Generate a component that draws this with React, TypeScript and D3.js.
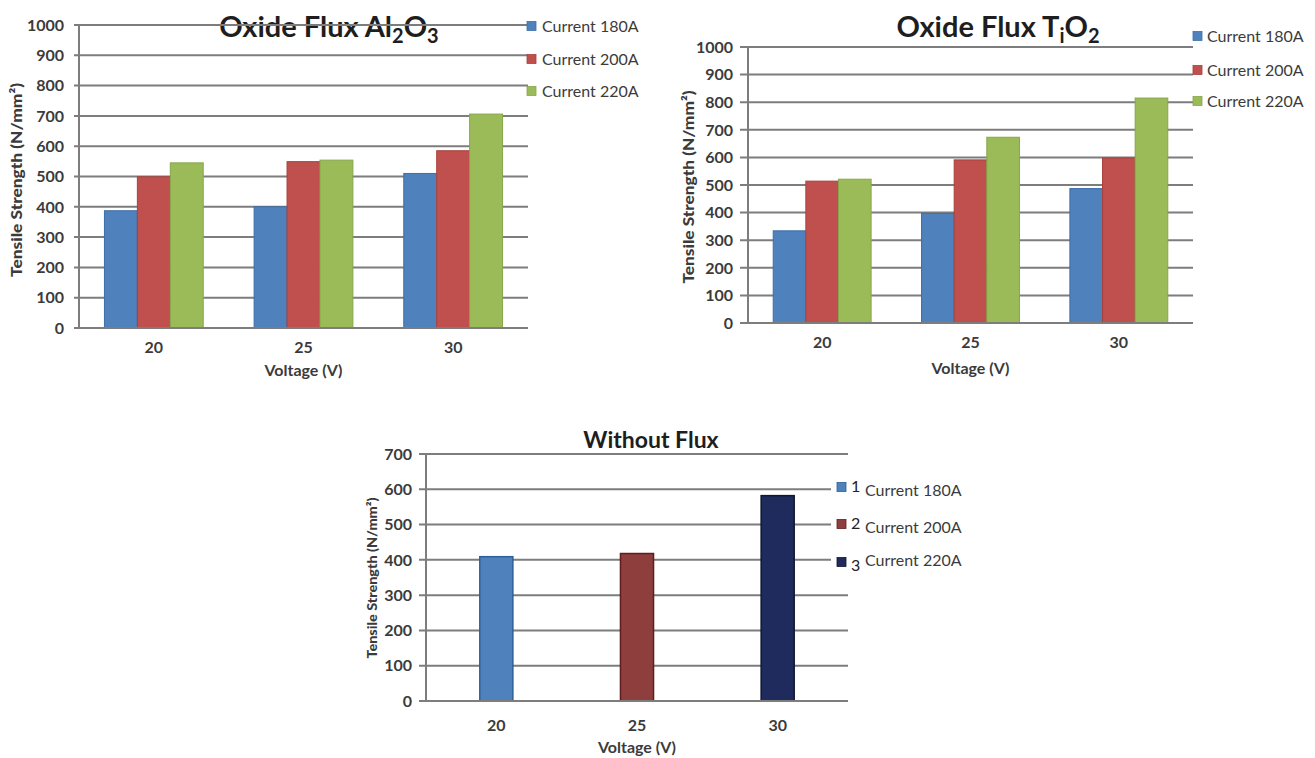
import React from 'react';
import * as d3 from 'd3';

const categories = ['20', '25', '30'];
const seriesNames = ['Current 180A', 'Current 200A', 'Current 220A'];
const seriesColors = ['#4f81bd', '#c0504d', '#9bbb59'];
const seriesStrokes = ['#3d6ea8', '#a8403d', '#87a64a'];

const al2o3_180 = [387, 400, 510];
const al2o3_200 = [499, 549, 585];
const al2o3_220 = [545, 554, 706];

const tio2_180 = [334, 397, 487];
const tio2_200 = [514, 591, 598];
const tio2_220 = [521, 673, 815];

const noFlux = [409, 418, 582];
const noFluxColors = ['#4f81bd', '#8f3e3e', '#1f2b5c'];
const noFluxStrokes = ['#2d5f95', '#5e1e1e', '#10172f'];
const noFluxLegendNums = ['1', '2', '3'];

const yTicksOxide = [0, 100, 200, 300, 400, 500, 600, 700, 800, 900, 1000];
const yTicksNoFlux = [0, 100, 200, 300, 400, 500, 600, 700];

const xTitle = 'Voltage (V)';
const yTitle = 'Tensile Strength (N/mm²)';

const FONT = 'Lato, Carlito, "Open Sans", sans-serif';
const GRID = '#7d7d7d';
const TXT = '#3b3b3b';

type GLayout = {
  x0: number; x1: number; yTop: number; yBot: number; yMax: number;
  tickLeft: number; labelRight: number; catBase: number; xTitleBase: number;
  yTitleX: number; yTitleY: number; yTitleSize: number; yTitleLen: number;
  legendSqX: number; legendSqSize: number; legendTextX: number; legendYs: number[]; legendBaseOff: number;
};

function GroupedChart({ layout, values, ticks }: { layout: GLayout; values: number[][]; ticks: number[] }) {
  const L = layout;
  const x = d3.scaleBand<string>().domain(categories).range([L.x0, L.x1]).padding(0);
  const bw = x.bandwidth();
  const inner = d3.scaleBand<string>().domain(seriesNames).range([bw * 0.17, bw * 0.83]).padding(0);
  const y = d3.scaleLinear().domain([0, L.yMax]).range([L.yBot, L.yTop]);
  return (
    <g>
      {ticks.map((t) => (
        <g key={t}>
          <line x1={L.tickLeft} x2={L.x1} y1={y(t)} y2={y(t)} stroke={GRID} strokeWidth={2} />
          <text x={L.labelRight} y={y(t)} dy="0.36em" textAnchor="end" fontSize={16} fontWeight={700} fill={TXT} fontFamily={FONT}>{t}</text>
        </g>
      ))}
      <line x1={L.x0} x2={L.x0} y1={y(L.yMax)} y2={y(0) + 1} stroke={GRID} strokeWidth={2} />
      {values.map((vals, si) =>
        vals.map((v, ci) => (
          <rect key={si + '-' + ci}
            x={(x(categories[ci]) as number) + (inner(seriesNames[si]) as number)}
            y={y(v)} width={inner.bandwidth()} height={y(0) - y(v)}
            fill={seriesColors[si]} stroke={seriesStrokes[si]} strokeWidth={1} />
        ))
      )}
      <line x1={L.tickLeft} x2={L.x1} y1={y(0)} y2={y(0)} stroke={GRID} strokeWidth={2} />
      {categories.map((c) => (
        <text key={c} x={(x(c) as number) + bw / 2} y={L.catBase} textAnchor="middle" fontSize={16} fontWeight={700} fill={TXT} fontFamily={FONT}>{c}</text>
      ))}
      <text x={(L.x0 + L.x1) / 2} y={L.xTitleBase} textAnchor="middle" fontSize={16} fontWeight={700} fill={TXT} fontFamily={FONT}>{xTitle}</text>
      <text transform={`translate(${L.yTitleX},${L.yTitleY}) rotate(-90)`} textAnchor="middle" fontSize={L.yTitleSize} fontWeight={900} fill={TXT} fontFamily={FONT}
        textLength={L.yTitleLen} lengthAdjust="spacingAndGlyphs">{yTitle}</text>
      {seriesNames.map((s, i) => (
        <g key={s}>
          <rect x={L.legendSqX} y={L.legendYs[i] - L.legendSqSize / 2} width={L.legendSqSize} height={L.legendSqSize} fill={seriesColors[i]} stroke={seriesStrokes[i]} strokeWidth={0.8} />
          <text x={L.legendTextX} y={L.legendYs[i] + L.legendBaseOff} fontSize={16} fill={TXT} fontFamily={FONT}>{s}</text>
        </g>
      ))}
    </g>
  );
}

function NoFluxChart() {
  const x0 = 426, x1 = 848, yTop = 454, yBot = 701;
  const x = d3.scaleBand<string>().domain(categories).range([x0, x1]).padding(0);
  const bw = x.bandwidth();
  const barW = bw * 0.235;
  const y = d3.scaleLinear().domain([0, 700]).range([yBot, yTop]);
  const legendYs = [487, 524, 562];
  return (
    <g>
      <text x={651} y={448} textAnchor="middle" fontSize={23} fontWeight={700} fill="#1e1e1e" fontFamily={FONT}>Without Flux</text>
      {yTicksNoFlux.map((t) => (
        <g key={t}>
          <line x1={419} x2={x1} y1={y(t)} y2={y(t)} stroke={GRID} strokeWidth={2} />
          <text x={412} y={y(t)} dy="0.36em" textAnchor="end" fontSize={16} fontWeight={700} fill={TXT} fontFamily={FONT}>{t}</text>
        </g>
      ))}
      <line x1={x0} x2={x0} y1={y(700)} y2={y(0) + 1} stroke={GRID} strokeWidth={2} />
      {noFlux.map((v, i) => (
        <rect key={i} x={(x(categories[i]) as number) + bw / 2 - barW / 2} y={y(v)} width={barW} height={y(0) - y(v)}
          fill={noFluxColors[i]} stroke={noFluxStrokes[i]} strokeWidth={1.5} />
      ))}
      <line x1={419} x2={x1} y1={y(0)} y2={y(0)} stroke={GRID} strokeWidth={2} />
      {categories.map((c) => (
        <text key={c} x={(x(c) as number) + bw / 2} y={731} textAnchor="middle" fontSize={16} fontWeight={700} fill={TXT} fontFamily={FONT}>{c}</text>
      ))}
      <text x={637} y={753} textAnchor="middle" fontSize={16} fontWeight={700} fill={TXT} fontFamily={FONT}>{xTitle}</text>
      <text transform={`translate(377,578) rotate(-90)`} textAnchor="middle" fontSize={13} fontWeight={900} fill={TXT} fontFamily={FONT}
        textLength={161} lengthAdjust="spacingAndGlyphs">{yTitle}</text>
      <rect x={831} y={470} width={150} height={105} fill="#ffffff" />
      {seriesNames.map((s, i) => (
        <g key={s}>
          <rect x={837} y={legendYs[i] - 4.5} width={9} height={9} fill={noFluxColors[i]} stroke={noFluxStrokes[i]} strokeWidth={0.8} />
          <text x={851} y={legendYs[i] + (i === 2 ? 9 : 5)} fontSize={16} fill="#222" fontFamily={FONT}>{noFluxLegendNums[i]}</text>
          <text x={865} y={legendYs[i] + (i === 2 ? 4 : 9)} fontSize={16} fill={TXT} fontFamily={FONT}>{s}</text>
        </g>
      ))}
    </g>
  );
}

export default function App() {
  const layoutA: GLayout = {
    x0: 79, x1: 528, yTop: 25, yBot: 328, yMax: 1000, tickLeft: 74, labelRight: 64,
    catBase: 353, xTitleBase: 376, yTitleX: 22, yTitleY: 180, yTitleSize: 15, yTitleLen: 194,
    legendSqX: 527, legendSqSize: 9, legendTextX: 542, legendYs: [26, 59, 91], legendBaseOff: 6,
  };
  const layoutB: GLayout = {
    x0: 748, x1: 1193, yTop: 47, yBot: 323, yMax: 1000, tickLeft: 740, labelRight: 733,
    catBase: 348, xTitleBase: 374, yTitleX: 694, yTitleY: 187, yTitleSize: 15, yTitleLen: 193,
    legendSqX: 1193, legendSqSize: 9, legendTextX: 1207, legendYs: [36, 70, 101], legendBaseOff: 6,
  };
  return (
    <svg width={1315} height={758} style={{ position: 'absolute', left: 0, top: 0, background: '#fff' }}>
      <rect width={1315} height={758} fill="#fff" />
      <text x={329} y={37} textAnchor="middle" fontSize={29} fontWeight={700} fill="#1e1e1e" fontFamily={FONT}>
        <tspan>Oxide Flux Al</tspan>
        <tspan fontSize={20} dy={6}>2</tspan>
        <tspan dy={-6}>O</tspan>
        <tspan fontSize={20} dy={6}>3</tspan>
      </text>
      <text x={998} y={37} textAnchor="middle" fontSize={29} fontWeight={700} fill="#1e1e1e" fontFamily={FONT}>
        <tspan>Oxide Flux T</tspan>
        <tspan fontSize={20} dy={6}>i</tspan>
        <tspan dy={-6}>O</tspan>
        <tspan fontSize={20} dy={6}>2</tspan>
      </text>
      <GroupedChart layout={layoutA} values={[al2o3_180, al2o3_200, al2o3_220]} ticks={yTicksOxide} />
      <GroupedChart layout={layoutB} values={[tio2_180, tio2_200, tio2_220]} ticks={yTicksOxide} />
      <NoFluxChart />
    </svg>
  );
}
